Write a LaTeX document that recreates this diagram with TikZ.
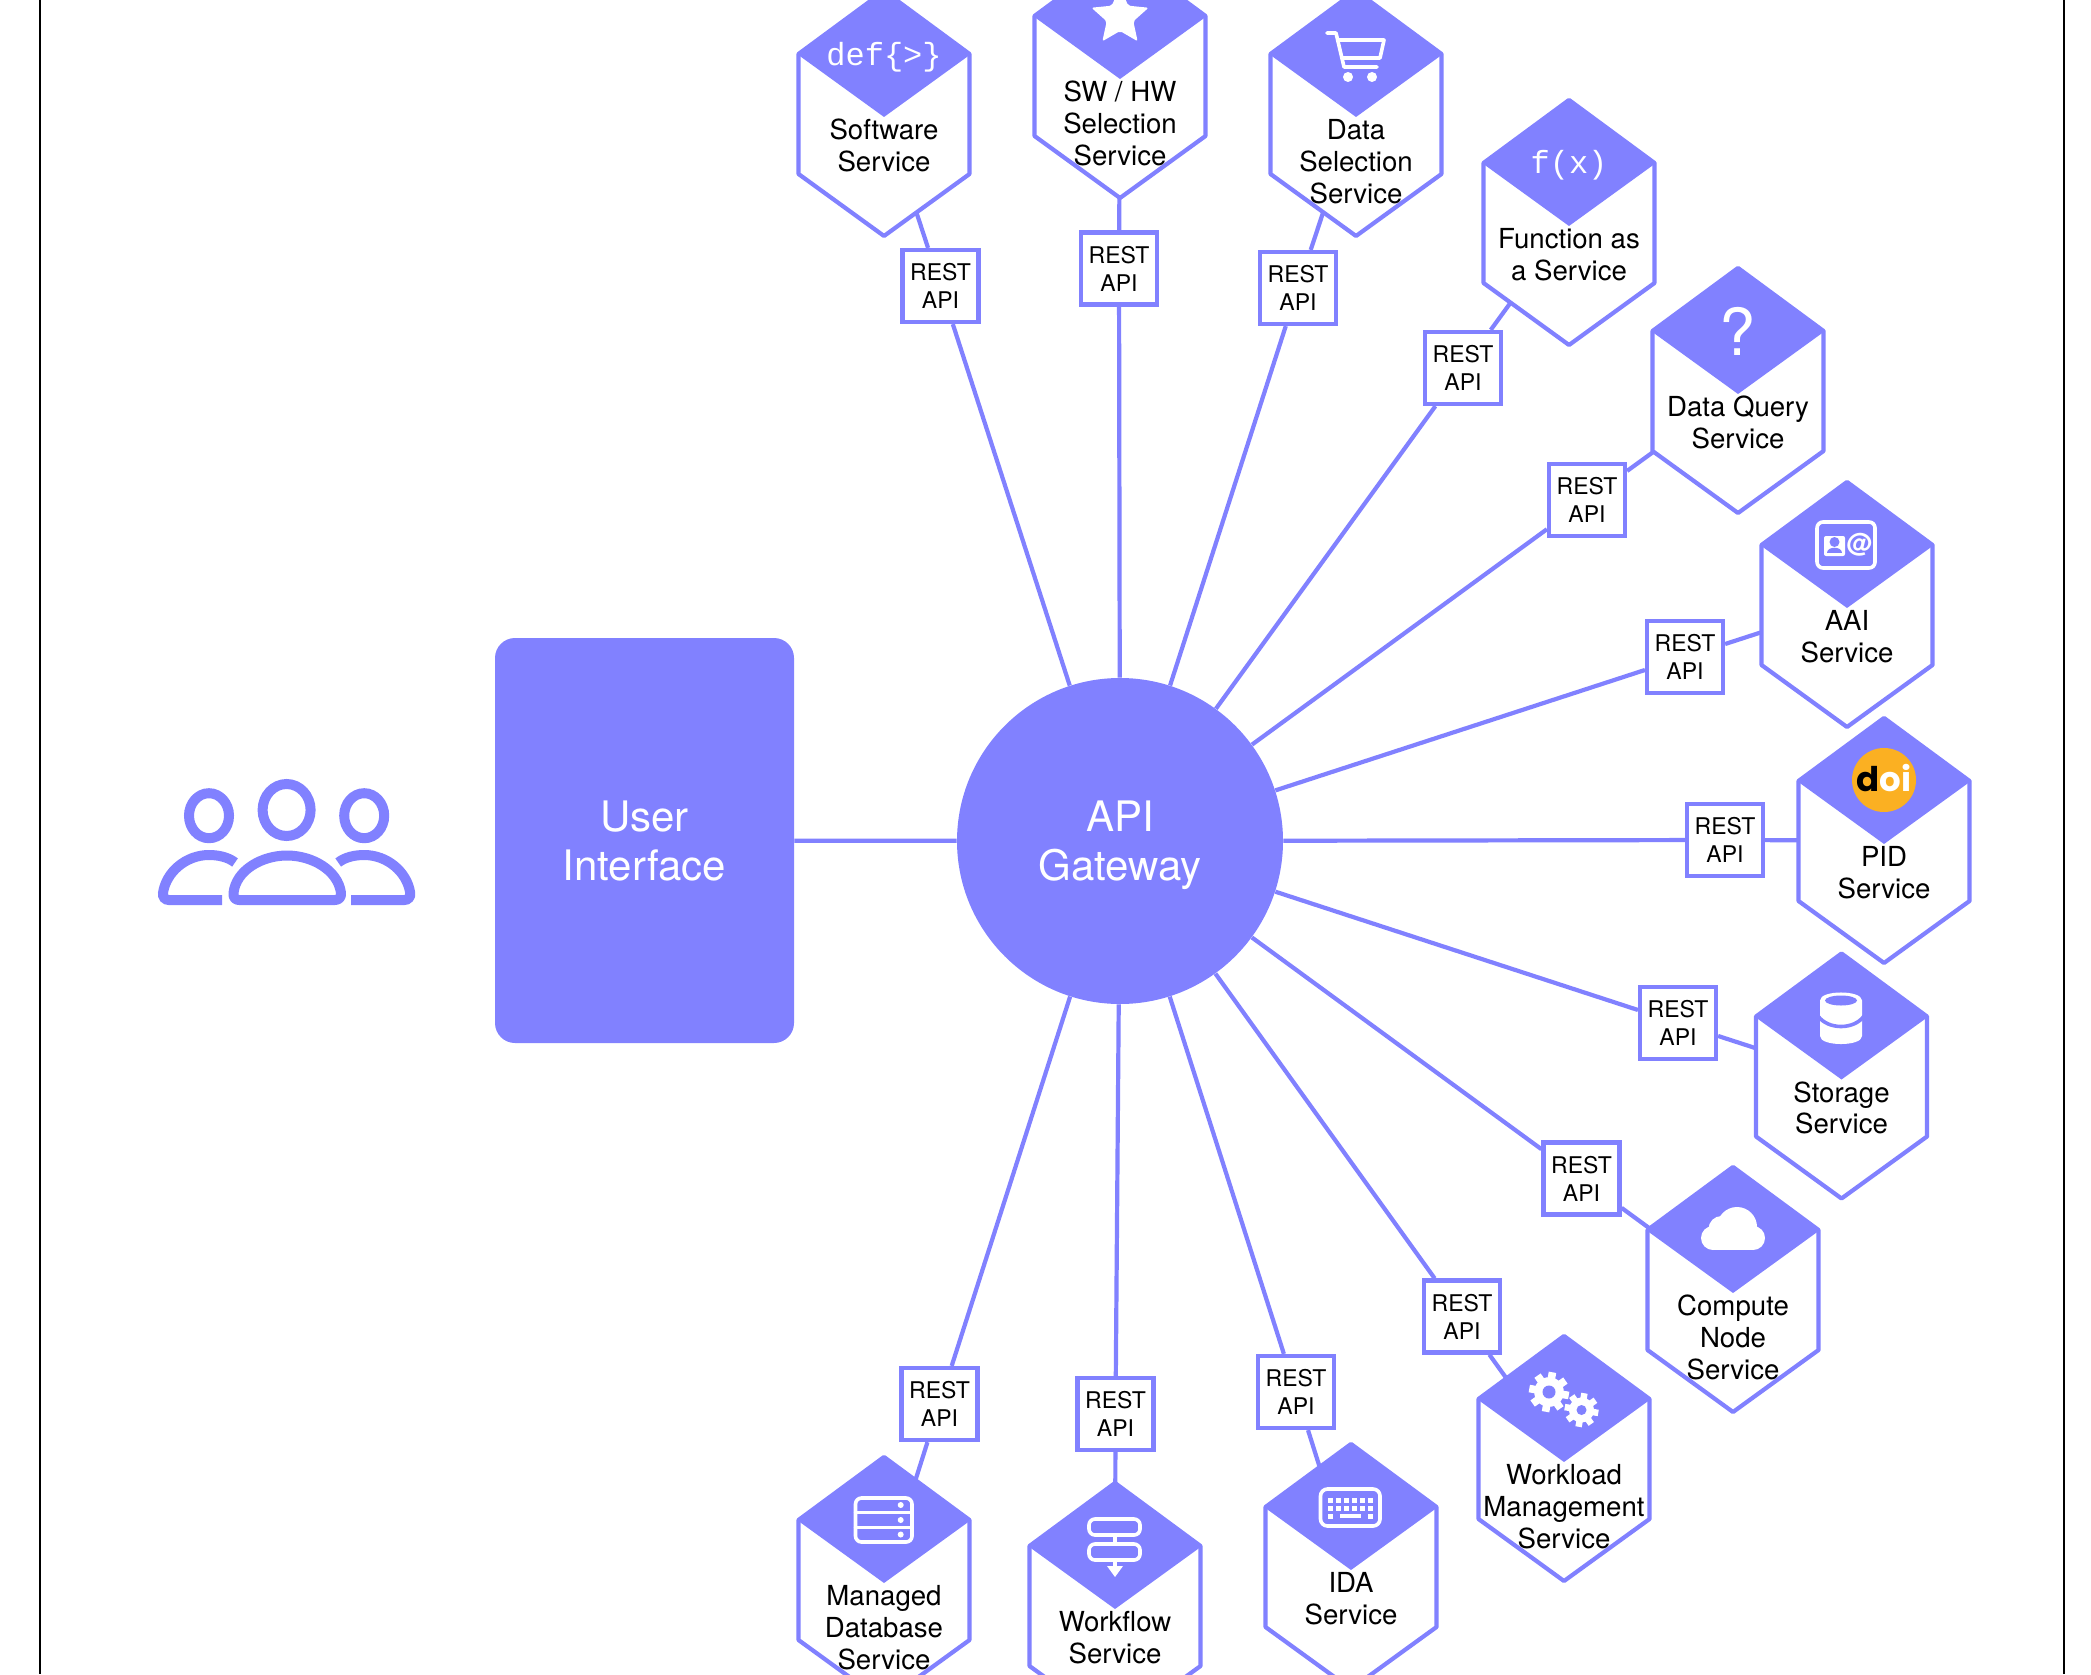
\documentclass[tikz,border=0pt]{standalone}
\usepackage{fontspec}
\setmainfont{TeX Gyre Heros}
\newfontfamily\monofam{Liberation Mono}
\newfontfamily\doifam{Poppins}
\usetikzlibrary{backgrounds}
\definecolor{main}{RGB}{129,129,255}
\tikzset{
  px/.style={x=0.5pt,y=-0.5pt},
  link/.style={draw=main,line width=2.1pt},
  restbox/.style={draw=main,line width=2.1pt,fill=white,rectangle,minimum width=38pt,minimum height=36pt,inner sep=0pt,align=center,font=\fontsize{11.5}{14}\selectfont},
  hexline/.style={draw=main,line width=2.1pt,fill=white,line join=round},
  icon/.style={draw=white,line width=1.8pt,line cap=round,line join=round},
  ppl/.style={draw=main,line width=5pt},
  bigtext/.style={text=white,align=center,font=\fontsize{21}{24.5}\selectfont,inner sep=0pt},
  icontext/.style={text=white,inner sep=0pt}
}
% #1 name, #2 cx, #3 top, #4 text
\newcommand{\svcnode}[4]{%
  \begin{scope}[shift={(#2,#3)}]
    \path[hexline] (0,0) -- (85.5,63) -- (85.5,183) -- (0,245) -- (-85.5,183) -- (-85.5,63) -- cycle;
    \fill[main] (0,0) -- (87,63) -- (0,126) -- (-87,63) -- cycle;
    \node[inner sep=0pt,outer sep=0pt] (#1) at (0,122.5) {\parbox[c][122.5pt][t]{86pt}{\fontsize{13.8}{15.9}\selectfont\centering\vspace*{63.2pt}\strut #4}};
  \end{scope}}
\newcommand{\gearicon}[4]{%
  \begin{scope}[shift={(#1,#2)}]
    \foreach \a in {0,45,...,315} {\draw[white,line width=#3*0.19pt,line cap=butt] (\a+10:#3*0.6) -- (\a+10:#3);}
    \fill[white] (0,0) circle[radius=#3*0.74];
    \fill[main] (0,0) circle[radius=#4];
  \end{scope}}
\begin{document}
\begin{tikzpicture}[px]
\useasboundingbox (0,0) rectangle (2091,1674);
% frame edges
\draw[black,line width=1.3pt] (40,0) -- (40,1674);
\draw[black,line width=1.3pt] (2064,0) -- (2064,1674);

\node[fill=main,draw=none,rectangle,rounded corners=10pt,minimum width=149.5pt,minimum height=202.5pt,inner sep=0pt,bigtext] (ui) at (644.5,840.5) {User\\Interface};
\node[fill=main,draw=none,circle,minimum size=163pt,inner sep=0pt,bigtext] (gw) at (1120,841) {API\\\smash{Gateway}};

\svcnode{h1}{884}{-9}{Software\\Service}
\svcnode{h2}{1120}{-47}{SW / HW\\Selection\\Service}
\svcnode{h3}{1356}{-9}{Data\\Selection\\Service}
\svcnode{h4}{1569}{100}{Function as\\a Service}
\svcnode{h5}{1738}{268}{Data Query\\Service}
\svcnode{h6}{1847}{482}{AAI\\Service}
\svcnode{h7}{1884}{718}{PID\\Service}
\svcnode{h8}{1841.5}{953.5}{Storage\\Service}
\svcnode{h9}{1733}{1167}{Compute\\Node\\Service}
\svcnode{h10}{1564}{1336}{Workload\\Management\\Service}
\svcnode{h11}{1351}{1444}{IDA\\Service}
\svcnode{h12}{1115}{1483}{Workflow\\Service}
\svcnode{h13}{884}{1457}{Managed\\Database\\Service}

\node[restbox] (r1) at (940.5,286) {REST\\API};
\node[restbox] (r2) at (1119,268.5) {REST\\API};
\node[restbox] (r3) at (1298,288) {REST\\API};
\node[restbox] (r4) at (1463,368) {REST\\API};
\node[restbox] (r5) at (1587,500) {REST\\API};
\node[restbox] (r6) at (1685,657) {REST\\API};
\node[restbox] (r7) at (1725,840) {REST\\API};
\node[restbox] (r8) at (1678,1023) {REST\\API};
\node[restbox] (r9) at (1581.5,1178.5) {REST\\API};
\node[restbox] (r10) at (1462,1316.5) {REST\\API};
\node[restbox] (r11) at (1296,1392) {REST\\API};
\node[restbox] (r12) at (1115.5,1414) {REST\\API};
\node[restbox] (r13) at (939.5,1404) {REST\\API};

\begin{pgfonlayer}{background}
  \fill[white] (0,0) rectangle (2091,1674);
  \draw[link] (ui) -- (gw);
  \foreach \i in {1,...,13} {
    \draw[link] (gw) -- (r\i);
    \draw[link] (r\i) -- (h\i.center);
  }
\end{pgfonlayer}

% icon: def{>}
\node[icontext,font=\monofam\fontsize{16}{18}\selectfont] (ic1) at (884,57) {def\{>\}};
% icon: star
\begin{scope}[shift={(1120,17)}]
\fill[white,rounded corners=1pt] (-90:30) -- (-54:14) -- (-18:30) -- (18:14) -- (54:30) -- (90:14) -- (126:30) -- (162:14) -- (198:30) -- (234:14) -- cycle;
\end{scope}
% icon: cart
\draw[icon] (1327,33) -- (1336,33) -- (1344,67) -- (1377,67);
\draw[icon] (1338,40) -- (1384,40) -- (1380,58) -- (1342,58);
\fill[white] (1348,77) circle[radius=5];
\fill[white] (1372,77) circle[radius=5];
% icon: f(x)
\node[icontext,font=\monofam\fontsize{16}{18}\selectfont] (ic4) at (1569,165) {f(x)};
% icon: ?
\node[icontext,font=\fontsize{32.5}{36}\selectfont] (ic5) at (1738,331) {?};
% icon: AAI
\draw[icon,rounded corners=3pt] (1817,522) rectangle (1875,568);
\fill[white,rounded corners=1pt] (1824,536) rectangle (1845,556);
\fill[main] (1834.5,542) circle[radius=5];
\fill[main] (1827,553) .. controls (1827,546) and (1842,546) .. (1842,553) -- cycle;
\node[icontext,font=\fontsize{13}{15}\selectfont\bfseries] (ic6) at (1859,545) {@};
% icon: doi
\fill[fill={rgb,255:red,251;green,176;blue,34}] (1884,780) circle[radius=32];
\node[inner sep=0pt,font=\doifam\bfseries\fontsize{17}{20}\selectfont] (ic7) at (1884,778) {\color{black}d\kern-0.3pt\color{white}oi};
% icon: storage
\fill[white] (1820,1000.5) -- (1820,1036) .. controls (1820,1046.7) and (1862,1046.7) .. (1862,1036) -- (1862,1000.5) .. controls (1862,989.8) and (1820,989.8) .. (1820,1000.5) -- cycle;
\fill[main] (1841,1000.5) circle[x radius=16,y radius=5];
\draw[main,line width=1.8pt] (1818,1016) .. controls (1828,1030) and (1854,1030) .. (1864,1016);
% icon: cloud
\fill[white] (1737,1227) circle[radius=20];
\fill[white] (1721.5,1229) circle[radius=13];
\fill[white] (1713,1238) circle[radius=12];
\fill[white] (1753,1238) circle[radius=12];
\fill[white] (1713,1232) rectangle (1753,1250);
% icon: gears
\gearicon{1549}{1392}{20}{6.5}
\gearicon{1581.5}{1410}{17}{5}
% icon: keyboard
\draw[icon,rounded corners=3.5pt] (1320.5,1489) rectangle (1380,1526);
\foreach \yy in {1500,1508} \foreach \xx in {1330,1338,...,1371} {\fill[white] (\xx-2.5,\yy-2.5) rectangle (\xx+2.5,\yy+2.5);}
\fill[white] (1327.5,1513.5) rectangle (1332.5,1518.5);
\fill[white] (1340,1514) rectangle (1361,1518);
\fill[white] (1368,1513.5) rectangle (1373,1518.5);
% icon: workflow
\draw[icon,rounded corners=3pt] (1089,1519) rectangle (1140,1535);
\draw[icon,rounded corners=3pt] (1089,1544) rectangle (1140,1560);
\draw[icon,line cap=butt] (1115,1535) -- (1115,1544);
\draw[icon,line cap=butt] (1115,1560) -- (1115,1568);
\fill[white] (1107,1566) -- (1123,1566) -- (1115,1577) -- cycle;
% icon: managed database
\draw[icon,rounded corners=3pt] (855.5,1498) rectangle (912,1542);
\draw[icon] (855.5,1512.5) -- (912,1512.5);
\draw[icon] (855.5,1527.5) -- (912,1527.5);
\fill[white] (900.7,1505) circle[radius=3];
\fill[white] (900.7,1520) circle[radius=3];
\fill[white] (900.7,1534.5) circle[radius=3];
% users icon
\draw[ppl] (209,815.7) circle[x radius=20,y radius=22.5];
\draw[ppl] (286.6,810) circle[x radius=24,y radius=26];
\draw[ppl] (364.2,815.7) circle[x radius=20,y radius=22.5];
\draw[ppl,line join=round] (233.5,893) .. controls (236,870) and (262,855.5) .. (287,855.5)
  .. controls (312,855.5) and (338,870) .. (341,893)
  .. controls (341.5,897) and (339,900) .. (335,900) -- (239,900)
  .. controls (235,900) and (233,897) .. (233.5,893) -- cycle;
\draw[ppl] (235,862.5) .. controls (228,857) and (218,855) .. (209,855)
  .. controls (186,855) and (166,872) .. (163,893)
  .. controls (162.5,897) and (165,900) .. (169,900) -- (222,900);
\draw[ppl] (338.2,862.5) .. controls (345.2,857) and (355.2,855) .. (364.2,855)
  .. controls (387.2,855) and (407.2,872) .. (410.2,893)
  .. controls (410.7,897) and (408.2,900) .. (404.2,900) -- (351.2,900);
\end{tikzpicture}
\end{document}
